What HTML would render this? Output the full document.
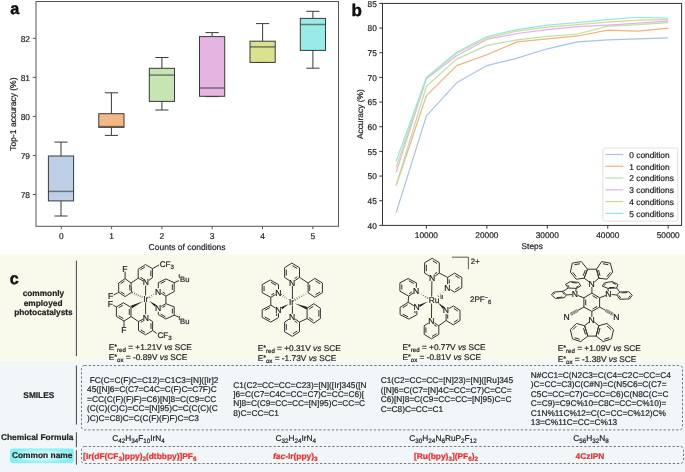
<!DOCTYPE html>
<html><head><meta charset="utf-8"><style>
html,body{margin:0;padding:0;background:#fff;}
body{width:685px;height:472px;overflow:hidden;}
svg{will-change:transform;text-rendering:geometricPrecision;display:block;font-family:"Liberation Sans", sans-serif;}
</style></head><body>
<svg width="685" height="472" viewBox="0 0 685 472">
<rect x="0" y="254.2" width="685" height="107.1" fill="#f9faeb"/>
<rect x="0" y="361.3" width="685" height="110.7" fill="#f1f7f9"/>
<line x1="61" y1="142.1" x2="61" y2="156" stroke="#3a3a3a" stroke-width="1" />
<line x1="61" y1="200.9" x2="61" y2="216" stroke="#3a3a3a" stroke-width="1" />
<line x1="54.4" y1="142.1" x2="67.6" y2="142.1" stroke="#3a3a3a" stroke-width="1" />
<line x1="54.4" y1="216" x2="67.6" y2="216" stroke="#3a3a3a" stroke-width="1" />
<rect x="48.4" y="156" width="25.2" height="44.9" fill="#bccfe6" stroke="#3a3a3a" stroke-width="1"/>
<line x1="48.4" y1="191.4" x2="73.6" y2="191.4" stroke="#333" stroke-width="1.5" stroke-opacity="0.62"/>
<line x1="111.4" y1="92.8" x2="111.4" y2="113.7" stroke="#3a3a3a" stroke-width="1" />
<line x1="111.4" y1="127.3" x2="111.4" y2="135.4" stroke="#3a3a3a" stroke-width="1" />
<line x1="104.8" y1="92.8" x2="118" y2="92.8" stroke="#3a3a3a" stroke-width="1" />
<line x1="104.8" y1="135.4" x2="118" y2="135.4" stroke="#3a3a3a" stroke-width="1" />
<rect x="98.8" y="113.7" width="25.2" height="13.6" fill="#f0b985" stroke="#3a3a3a" stroke-width="1"/>
<line x1="98.8" y1="126.6" x2="124" y2="126.6" stroke="#333" stroke-width="1.5" stroke-opacity="0.62"/>
<line x1="161.9" y1="57.5" x2="161.9" y2="68.3" stroke="#3a3a3a" stroke-width="1" />
<line x1="161.9" y1="101.4" x2="161.9" y2="110" stroke="#3a3a3a" stroke-width="1" />
<line x1="155.3" y1="57.5" x2="168.5" y2="57.5" stroke="#3a3a3a" stroke-width="1" />
<line x1="155.3" y1="110" x2="168.5" y2="110" stroke="#3a3a3a" stroke-width="1" />
<rect x="149.3" y="68.3" width="25.2" height="33.1" fill="#c5e5b5" stroke="#3a3a3a" stroke-width="1"/>
<line x1="149.3" y1="75.1" x2="174.5" y2="75.1" stroke="#333" stroke-width="1.5" stroke-opacity="0.62"/>
<line x1="212.1" y1="32.6" x2="212.1" y2="36.6" stroke="#3a3a3a" stroke-width="1" />
<line x1="212.1" y1="96.3" x2="212.1" y2="96.6" stroke="#3a3a3a" stroke-width="1" />
<line x1="205.5" y1="32.6" x2="218.7" y2="32.6" stroke="#3a3a3a" stroke-width="1" />
<line x1="205.5" y1="96.6" x2="218.7" y2="96.6" stroke="#3a3a3a" stroke-width="1" />
<rect x="199.5" y="36.6" width="25.2" height="59.7" fill="#e6b4e1" stroke="#3a3a3a" stroke-width="1"/>
<line x1="199.5" y1="88" x2="224.7" y2="88" stroke="#333" stroke-width="1.5" stroke-opacity="0.62"/>
<line x1="262.6" y1="23.6" x2="262.6" y2="41.2" stroke="#3a3a3a" stroke-width="1" />
<line x1="262.6" y1="62.4" x2="262.6" y2="62.4" stroke="#3a3a3a" stroke-width="1" />
<line x1="256" y1="23.6" x2="269.2" y2="23.6" stroke="#3a3a3a" stroke-width="1" />
<line x1="256" y1="62.4" x2="269.2" y2="62.4" stroke="#3a3a3a" stroke-width="1" />
<rect x="250" y="41.2" width="25.2" height="21.2" fill="#dae290" stroke="#3a3a3a" stroke-width="1"/>
<line x1="250" y1="46.9" x2="275.2" y2="46.9" stroke="#333" stroke-width="1.5" stroke-opacity="0.62"/>
<line x1="312.9" y1="11.3" x2="312.9" y2="18.4" stroke="#3a3a3a" stroke-width="1" />
<line x1="312.9" y1="50.4" x2="312.9" y2="68.2" stroke="#3a3a3a" stroke-width="1" />
<line x1="306.3" y1="11.3" x2="319.5" y2="11.3" stroke="#3a3a3a" stroke-width="1" />
<line x1="306.3" y1="68.2" x2="319.5" y2="68.2" stroke="#3a3a3a" stroke-width="1" />
<rect x="300.3" y="18.4" width="25.2" height="32" fill="#9aebe8" stroke="#3a3a3a" stroke-width="1"/>
<line x1="300.3" y1="24.5" x2="325.5" y2="24.5" stroke="#333" stroke-width="1.5" stroke-opacity="0.62"/>
<rect x="36" y="1.5" width="302.5" height="224.8" fill="none" stroke="#555" stroke-width="1"/>
<line x1="32.8" y1="194.5" x2="36" y2="194.5" stroke="#555" stroke-width="1" />
<text x="30" y="197.7" font-size="8.4" text-anchor="end" font-weight="normal" fill="#222"  stroke="#222" stroke-width="0.2">78</text>
<line x1="32.8" y1="155.45" x2="36" y2="155.45" stroke="#555" stroke-width="1" />
<text x="30" y="158.65" font-size="8.4" text-anchor="end" font-weight="normal" fill="#222"  stroke="#222" stroke-width="0.2">79</text>
<line x1="32.8" y1="116.4" x2="36" y2="116.4" stroke="#555" stroke-width="1" />
<text x="30" y="119.6" font-size="8.4" text-anchor="end" font-weight="normal" fill="#222"  stroke="#222" stroke-width="0.2">80</text>
<line x1="32.8" y1="77.35" x2="36" y2="77.35" stroke="#555" stroke-width="1" />
<text x="30" y="80.55" font-size="8.4" text-anchor="end" font-weight="normal" fill="#222"  stroke="#222" stroke-width="0.2">81</text>
<line x1="32.8" y1="38.3" x2="36" y2="38.3" stroke="#555" stroke-width="1" />
<text x="30" y="41.5" font-size="8.4" text-anchor="end" font-weight="normal" fill="#222"  stroke="#222" stroke-width="0.2">82</text>
<line x1="61.3" y1="226.3" x2="61.3" y2="229.1" stroke="#555" stroke-width="1" />
<text x="61.3" y="238.8" font-size="8.4" text-anchor="middle" font-weight="normal" fill="#222"  stroke="#222" stroke-width="0.2">0</text>
<line x1="111.6" y1="226.3" x2="111.6" y2="229.1" stroke="#555" stroke-width="1" />
<text x="111.6" y="238.8" font-size="8.4" text-anchor="middle" font-weight="normal" fill="#222"  stroke="#222" stroke-width="0.2">1</text>
<line x1="161.9" y1="226.3" x2="161.9" y2="229.1" stroke="#555" stroke-width="1" />
<text x="161.9" y="238.8" font-size="8.4" text-anchor="middle" font-weight="normal" fill="#222"  stroke="#222" stroke-width="0.2">2</text>
<line x1="212.2" y1="226.3" x2="212.2" y2="229.1" stroke="#555" stroke-width="1" />
<text x="212.2" y="238.8" font-size="8.4" text-anchor="middle" font-weight="normal" fill="#222"  stroke="#222" stroke-width="0.2">3</text>
<line x1="262.5" y1="226.3" x2="262.5" y2="229.1" stroke="#555" stroke-width="1" />
<text x="262.5" y="238.8" font-size="8.4" text-anchor="middle" font-weight="normal" fill="#222"  stroke="#222" stroke-width="0.2">4</text>
<line x1="312.8" y1="226.3" x2="312.8" y2="229.1" stroke="#555" stroke-width="1" />
<text x="312.8" y="238.8" font-size="8.4" text-anchor="middle" font-weight="normal" fill="#222"  stroke="#222" stroke-width="0.2">5</text>
<text x="187.1" y="249.6" font-size="8.5" text-anchor="middle" font-weight="normal" fill="#222"  stroke="#222" stroke-width="0.2">Counts of conditions</text>
<text x="0" y="0" font-size="8.5" text-anchor="middle" font-weight="normal" fill="#222" transform="translate(16.1,114.1) rotate(-90)" stroke="#222" stroke-width="0.2">Top-1 accuracy (%)</text>
<text x="10.2" y="14.2" font-size="16.2" text-anchor="start" font-weight="bold" fill="#111" stroke="#111" stroke-width="0.45">a</text>
<polyline points="396.17,212.57 426.4,115.89 456.62,82.84 486.85,65.57 517.07,58.17 547.3,48.8 577.52,41.89 607.75,39.92 637.97,38.93 668.2,37.95" fill="none" stroke="#a9c3e3" stroke-width="1.2" stroke-linejoin="round"/>
<polyline points="396.17,185.44 426.4,95.66 456.62,65.57 486.85,54.72 517.07,41.89 547.3,38.93 577.52,35.97 607.75,30.05 637.97,31.04 668.2,28.08" fill="none" stroke="#f2b27c" stroke-width="1.2" stroke-linejoin="round"/>
<polyline points="396.17,184.95 426.4,86.29 456.62,59.16 486.85,45.35 517.07,39.92 547.3,36.47 577.52,34 607.75,26.11 637.97,24.63 668.2,22.65" fill="none" stroke="#b9e2a9" stroke-width="1.2" stroke-linejoin="round"/>
<polyline points="396.17,172.12 426.4,78.89 456.62,55.7 486.85,39.43 517.07,33.51 547.3,29.56 577.52,26.6 607.75,25.12 637.97,23.15 668.2,21.17" fill="none" stroke="#e8aeea" stroke-width="1.2" stroke-linejoin="round"/>
<polyline points="396.17,167.19 426.4,77.9 456.62,53.24 486.85,37.95 517.07,31.04 547.3,27.09 577.52,24.63 607.75,22.16 637.97,20.19 668.2,19.69" fill="none" stroke="#d3da8c" stroke-width="1.2" stroke-linejoin="round"/>
<polyline points="396.17,161.27 426.4,77.41 456.62,52.25 486.85,36.47 517.07,29.56 547.3,25.12 577.52,22.65 607.75,19.69 637.97,17.23 668.2,18.21" fill="none" stroke="#8ee9ea" stroke-width="1.2" stroke-linejoin="round"/>
<rect x="382.5" y="3.4" width="299.1" height="222" fill="none" stroke="#333" stroke-width="1"/>
<line x1="379.3" y1="225.4" x2="382.5" y2="225.4" stroke="#333" stroke-width="1" />
<text x="376.8" y="228.6" font-size="8.3" text-anchor="end" font-weight="normal" fill="#222"  stroke="#222" stroke-width="0.2">40</text>
<line x1="379.3" y1="200.74" x2="382.5" y2="200.74" stroke="#333" stroke-width="1" />
<text x="376.8" y="203.94" font-size="8.3" text-anchor="end" font-weight="normal" fill="#222"  stroke="#222" stroke-width="0.2">45</text>
<line x1="379.3" y1="176.07" x2="382.5" y2="176.07" stroke="#333" stroke-width="1" />
<text x="376.8" y="179.27" font-size="8.3" text-anchor="end" font-weight="normal" fill="#222"  stroke="#222" stroke-width="0.2">50</text>
<line x1="379.3" y1="151.41" x2="382.5" y2="151.41" stroke="#333" stroke-width="1" />
<text x="376.8" y="154.6" font-size="8.3" text-anchor="end" font-weight="normal" fill="#222"  stroke="#222" stroke-width="0.2">55</text>
<line x1="379.3" y1="126.74" x2="382.5" y2="126.74" stroke="#333" stroke-width="1" />
<text x="376.8" y="129.94" font-size="8.3" text-anchor="end" font-weight="normal" fill="#222"  stroke="#222" stroke-width="0.2">60</text>
<line x1="379.3" y1="102.08" x2="382.5" y2="102.08" stroke="#333" stroke-width="1" />
<text x="376.8" y="105.28" font-size="8.3" text-anchor="end" font-weight="normal" fill="#222"  stroke="#222" stroke-width="0.2">65</text>
<line x1="379.3" y1="77.41" x2="382.5" y2="77.41" stroke="#333" stroke-width="1" />
<text x="376.8" y="80.61" font-size="8.3" text-anchor="end" font-weight="normal" fill="#222"  stroke="#222" stroke-width="0.2">70</text>
<line x1="379.3" y1="52.75" x2="382.5" y2="52.75" stroke="#333" stroke-width="1" />
<text x="376.8" y="55.95" font-size="8.3" text-anchor="end" font-weight="normal" fill="#222"  stroke="#222" stroke-width="0.2">75</text>
<line x1="379.3" y1="28.08" x2="382.5" y2="28.08" stroke="#333" stroke-width="1" />
<text x="376.8" y="31.28" font-size="8.3" text-anchor="end" font-weight="normal" fill="#222"  stroke="#222" stroke-width="0.2">80</text>
<line x1="379.3" y1="3.42" x2="382.5" y2="3.42" stroke="#333" stroke-width="1" />
<text x="376.8" y="6.62" font-size="8.3" text-anchor="end" font-weight="normal" fill="#222"  stroke="#222" stroke-width="0.2">85</text>
<line x1="426.4" y1="225.4" x2="426.4" y2="228.6" stroke="#333" stroke-width="1" />
<text x="426.4" y="237.8" font-size="8.3" text-anchor="middle" font-weight="normal" fill="#222"  stroke="#222" stroke-width="0.2">10000</text>
<line x1="486.85" y1="225.4" x2="486.85" y2="228.6" stroke="#333" stroke-width="1" />
<text x="486.85" y="237.8" font-size="8.3" text-anchor="middle" font-weight="normal" fill="#222"  stroke="#222" stroke-width="0.2">20000</text>
<line x1="547.3" y1="225.4" x2="547.3" y2="228.6" stroke="#333" stroke-width="1" />
<text x="547.3" y="237.8" font-size="8.3" text-anchor="middle" font-weight="normal" fill="#222"  stroke="#222" stroke-width="0.2">30000</text>
<line x1="607.75" y1="225.4" x2="607.75" y2="228.6" stroke="#333" stroke-width="1" />
<text x="607.75" y="237.8" font-size="8.3" text-anchor="middle" font-weight="normal" fill="#222"  stroke="#222" stroke-width="0.2">40000</text>
<line x1="668.2" y1="225.4" x2="668.2" y2="228.6" stroke="#333" stroke-width="1" />
<text x="668.2" y="237.8" font-size="8.3" text-anchor="middle" font-weight="normal" fill="#222"  stroke="#222" stroke-width="0.2">50000</text>
<text x="532.2" y="248.5" font-size="8.3" text-anchor="middle" font-weight="normal" fill="#222"  stroke="#222" stroke-width="0.2">Steps</text>
<text x="0" y="0" font-size="8.4" text-anchor="middle" font-weight="normal" fill="#222" transform="translate(362.6,114.2) rotate(-90)" stroke="#222" stroke-width="0.2">Accuracy (%)</text>
<text x="351.5" y="16.1" font-size="17" text-anchor="start" font-weight="bold" fill="#111" stroke="#111" stroke-width="0.45">b</text>
<rect x="602.8" y="148" width="75" height="73.1" rx="2" fill="#fff" fill-opacity="0.8" stroke="#d8d8d8" stroke-width="0.8"/>
<line x1="605.3" y1="154.5" x2="623.4" y2="154.5" stroke="#a9c3e3" stroke-width="1.2" />
<text x="629.3" y="157.9" font-size="8.35" text-anchor="start" font-weight="normal" fill="#222"  stroke="#222" stroke-width="0.2">0 condition</text>
<line x1="605.3" y1="166.28" x2="623.4" y2="166.28" stroke="#f2b27c" stroke-width="1.2" />
<text x="629.3" y="169.68" font-size="8.35" text-anchor="start" font-weight="normal" fill="#222"  stroke="#222" stroke-width="0.2">1 condition</text>
<line x1="605.3" y1="178.06" x2="623.4" y2="178.06" stroke="#b9e2a9" stroke-width="1.2" />
<text x="629.3" y="181.46" font-size="8.35" text-anchor="start" font-weight="normal" fill="#222"  stroke="#222" stroke-width="0.2">2 conditions</text>
<line x1="605.3" y1="189.84" x2="623.4" y2="189.84" stroke="#e8aeea" stroke-width="1.2" />
<text x="629.3" y="193.24" font-size="8.35" text-anchor="start" font-weight="normal" fill="#222"  stroke="#222" stroke-width="0.2">3 conditions</text>
<line x1="605.3" y1="201.62" x2="623.4" y2="201.62" stroke="#d3da8c" stroke-width="1.2" />
<text x="629.3" y="205.02" font-size="8.35" text-anchor="start" font-weight="normal" fill="#222"  stroke="#222" stroke-width="0.2">4 conditions</text>
<line x1="605.3" y1="213.4" x2="623.4" y2="213.4" stroke="#8ee9ea" stroke-width="1.2" />
<text x="629.3" y="216.8" font-size="8.35" text-anchor="start" font-weight="normal" fill="#222"  stroke="#222" stroke-width="0.2">5 conditions</text>
<line x1="76.4" y1="260.7" x2="76.4" y2="356.2" stroke="#444" stroke-width="1" />
<line x1="76.4" y1="365.5" x2="76.4" y2="424.6" stroke="#444" stroke-width="1" />
<line x1="76.4" y1="432.3" x2="76.4" y2="447.2" stroke="#444" stroke-width="1" />
<line x1="76.4" y1="450.1" x2="76.4" y2="464.7" stroke="#444" stroke-width="1" />
<text x="9.8" y="283.8" font-size="16.2" text-anchor="start" font-weight="bold" fill="#111" stroke="#111" stroke-width="0.45">c</text>
<text x="43.4" y="296" font-size="8.3" text-anchor="middle" font-weight="bold" fill="#222"  stroke="#222" stroke-width="0.2">commonly</text>
<text x="43.1" y="305.6" font-size="8.3" text-anchor="middle" font-weight="bold" fill="#222"  stroke="#222" stroke-width="0.2">employed</text>
<text x="43.45" y="315" font-size="8.3" text-anchor="middle" font-weight="bold" fill="#222"  stroke="#222" stroke-width="0.2">photocatalysts</text>
<text x="38.8" y="397.6" font-size="8.3" text-anchor="middle" font-weight="bold" fill="#222"  stroke="#222" stroke-width="0.2">SMILES</text>
<text x="37.2" y="440.1" font-size="8.4" text-anchor="middle" font-weight="bold" fill="#222"  stroke="#222" stroke-width="0.2">Chemical Formula</text>
<defs><radialGradient id="pill" cx="50%" cy="50%" r="55%"><stop offset="0" stop-color="#eafdfd"/><stop offset="0.5" stop-color="#c2f9fa"/><stop offset="0.85" stop-color="#8ef2f6"/><stop offset="1" stop-color="#80f0f5"/></radialGradient></defs>
<rect x="9.9" y="448.5" width="64" height="14.5" rx="3.2" fill="url(#pill)"/>
<text x="42.2" y="458.2" font-size="8.4" text-anchor="middle" font-weight="bold" fill="#222"  stroke="#222" stroke-width="0.2">Common name</text>
<rect x="81.5" y="365.5" width="601" height="64.4" rx="3" fill="none" stroke="#6a6a6a" stroke-width="0.9" stroke-dasharray="2.3,1.9"/>
<rect x="81.5" y="446.5" width="602" height="17" rx="3" fill="none" stroke="#6a6a6a" stroke-width="0.9" stroke-dasharray="2.3,1.9"/>
<text x="89.8" y="382.7" font-size="8.3" text-anchor="start" font-weight="normal" fill="#222"  stroke="#222" stroke-width="0.2">FC(C=C(F)C=C12)=C1C3=[N]([Ir]2</text>
<text x="87.1" y="392.15" font-size="8.3" text-anchor="start" font-weight="normal" fill="#222"  stroke="#222" stroke-width="0.2">45([N]6=C(C7=C4C=C(F)C=C7F)C</text>
<text x="87.1" y="401.6" font-size="8.3" text-anchor="start" font-weight="normal" fill="#222"  stroke="#222" stroke-width="0.2">=CC(C(F)(F)F)=C6)[N]8=C(C9=CC</text>
<text x="87.1" y="411.05" font-size="8.3" text-anchor="start" font-weight="normal" fill="#222"  stroke="#222" stroke-width="0.2">(C(C)(C)C)=CC=[N]95)C=C(C(C)(C</text>
<text x="87.1" y="420.5" font-size="8.3" text-anchor="start" font-weight="normal" fill="#222"  stroke="#222" stroke-width="0.2">)C)C=C8)C=C(C(F)(F)F)C=C3</text>
<text x="233.2" y="387.5" font-size="8.3" text-anchor="start" font-weight="normal" fill="#222"  stroke="#222" stroke-width="0.2">C1(C2=CC=CC=C23)=[N]([Ir]345([N</text>
<text x="233.2" y="396.9" font-size="8.3" text-anchor="start" font-weight="normal" fill="#222"  stroke="#222" stroke-width="0.2">]6=C(C7=C4C=CC=C7)C=CC=C6)[</text>
<text x="233.2" y="406.3" font-size="8.3" text-anchor="start" font-weight="normal" fill="#222"  stroke="#222" stroke-width="0.2">N]8=C(C9=CC=CC=[N]95)C=CC=C</text>
<text x="233.2" y="415.7" font-size="8.3" text-anchor="start" font-weight="normal" fill="#222"  stroke="#222" stroke-width="0.2">8)C=CC=C1</text>
<text x="380.7" y="383.3" font-size="8.3" text-anchor="start" font-weight="normal" fill="#222"  stroke="#222" stroke-width="0.2">C1(C2=CC=CC=[N]23)=[N]([Ru]345</text>
<text x="380.7" y="392.8" font-size="8.3" text-anchor="start" font-weight="normal" fill="#222"  stroke="#222" stroke-width="0.2">([N]6=C(C7=[N]4C=CC=C7)C=CC=</text>
<text x="380.7" y="402.3" font-size="8.3" text-anchor="start" font-weight="normal" fill="#222"  stroke="#222" stroke-width="0.2">C6)[N]8=C(C9=CC=CC=[N]95)C=C</text>
<text x="380.7" y="411.8" font-size="8.3" text-anchor="start" font-weight="normal" fill="#222"  stroke="#222" stroke-width="0.2">C=C8)C=CC=C1</text>
<text x="530.8" y="377.8" font-size="8.3" text-anchor="start" font-weight="normal" fill="#222"  stroke="#222" stroke-width="0.2">N#CC1=C(N2C3=C(C4=C2C=CC=C4</text>
<text x="530.8" y="387.3" font-size="8.3" text-anchor="start" font-weight="normal" fill="#222"  stroke="#222" stroke-width="0.2">)C=CC=C3)C(C#N)=C(N5C6=C(C7=</text>
<text x="530.8" y="396.8" font-size="8.3" text-anchor="start" font-weight="normal" fill="#222"  stroke="#222" stroke-width="0.2">C5C=CC=C7)C=CC=C6)C(N8C(C=C</text>
<text x="530.8" y="406.3" font-size="8.3" text-anchor="start" font-weight="normal" fill="#222"  stroke="#222" stroke-width="0.2">C=C9)=C9C%10=C8C=CC=C%10)=</text>
<text x="530.8" y="415.8" font-size="8.3" text-anchor="start" font-weight="normal" fill="#222"  stroke="#222" stroke-width="0.2">C1N%11C%12=C(C=CC=C%12)C%</text>
<text x="530.8" y="425.3" font-size="8.3" text-anchor="start" font-weight="normal" fill="#222"  stroke="#222" stroke-width="0.2">13=C%11C=CC=C%13</text>
<text x="138.5" y="440.5" font-size="8.3" text-anchor="middle" font-weight="normal" fill="#222"  stroke="#222" stroke-width="0.2"><tspan>C</tspan><tspan dy="2.1" font-size="6.3">42</tspan><tspan dy="-2.1">H</tspan><tspan dy="2.1" font-size="6.3">34</tspan><tspan dy="-2.1">F</tspan><tspan dy="2.1" font-size="6.3">10</tspan><tspan dy="-2.1">IrN</tspan><tspan dy="2.1" font-size="6.3">4</tspan></text>
<text x="295.7" y="440.5" font-size="8.3" text-anchor="middle" font-weight="normal" fill="#222"  stroke="#222" stroke-width="0.2"><tspan>C</tspan><tspan dy="2.1" font-size="6.3">32</tspan><tspan dy="-2.1">H</tspan><tspan dy="2.1" font-size="6.3">24</tspan><tspan dy="-2.1">IrN</tspan><tspan dy="2.1" font-size="6.3">4</tspan></text>
<text x="443" y="440.5" font-size="8.3" text-anchor="middle" font-weight="normal" fill="#222"  stroke="#222" stroke-width="0.2"><tspan>C</tspan><tspan dy="2.1" font-size="6.3">30</tspan><tspan dy="-2.1">H</tspan><tspan dy="2.1" font-size="6.3">24</tspan><tspan dy="-2.1">N</tspan><tspan dy="2.1" font-size="6.3">6</tspan><tspan dy="-2.1">RuP</tspan><tspan dy="2.1" font-size="6.3">2</tspan><tspan dy="-2.1">F</tspan><tspan dy="2.1" font-size="6.3">12</tspan></text>
<text x="591" y="440.5" font-size="8.3" text-anchor="middle" font-weight="normal" fill="#222"  stroke="#222" stroke-width="0.2"><tspan>C</tspan><tspan dy="2.1" font-size="6.3">56</tspan><tspan dy="-2.1">H</tspan><tspan dy="2.1" font-size="6.3">32</tspan><tspan dy="-2.1">N</tspan><tspan dy="2.1" font-size="6.3">8</tspan></text>
<text x="139.8" y="458.7" font-size="8.4" text-anchor="middle" font-weight="bold" fill="#f22a2a"  stroke="#f22a2a" stroke-width="0.2"><tspan>[Ir(dF(CF</tspan><tspan dy="2.1" font-size="6.3">3</tspan><tspan dy="-2.1">)ppy)</tspan><tspan dy="2.1" font-size="6.3">2</tspan><tspan dy="-2.1">(dtbbpy)]PF</tspan><tspan dy="2.1" font-size="6.3">6</tspan></text>
<text x="295.3" y="458.7" font-size="8.4" text-anchor="middle" font-weight="bold" fill="#f22a2a"  stroke="#f22a2a" stroke-width="0.2"><tspan font-style="italic">fac</tspan><tspan>-Ir(ppy)</tspan><tspan dy="2.1" font-size="6.3">3</tspan></text>
<text x="446" y="458.7" font-size="8.4" text-anchor="middle" font-weight="bold" fill="#f22a2a"  stroke="#f22a2a" stroke-width="0.2"><tspan>[Ru(bpy)</tspan><tspan dy="2.1" font-size="6.3">3</tspan><tspan dy="-2.1">](PF</tspan><tspan dy="2.1" font-size="6.3">6</tspan><tspan dy="-2.1">)</tspan><tspan dy="2.1" font-size="6.3">2</tspan></text>
<text x="590" y="458.7" font-size="8.4" text-anchor="middle" font-weight="bold" fill="#f22a2a"  stroke="#f22a2a" stroke-width="0.2"><tspan>4CzIPN</tspan></text>
<text x="108.8" y="349.6" font-size="8.3" text-anchor="start" font-weight="normal" fill="#222"  stroke="#222" stroke-width="0.2"><tspan>E</tspan><tspan dy="-1" font-size="7">*</tspan><tspan dy="3" font-size="6.1">red</tspan><tspan dy="-2"> = +1.21V </tspan><tspan font-style="italic">vs</tspan><tspan> SCE</tspan></text>
<text x="108.8" y="360.1" font-size="8.3" text-anchor="start" font-weight="normal" fill="#222"  stroke="#222" stroke-width="0.2"><tspan>E</tspan><tspan dy="-1" font-size="7">*</tspan><tspan dy="3" font-size="6.1">ox</tspan><tspan dy="-2"> = -0.89V </tspan><tspan font-style="italic">vs</tspan><tspan> SCE</tspan></text>
<text x="257.7" y="351.1" font-size="8.3" text-anchor="start" font-weight="normal" fill="#222"  stroke="#222" stroke-width="0.2"><tspan>E</tspan><tspan dy="-1" font-size="7">*</tspan><tspan dy="3" font-size="6.1">red</tspan><tspan dy="-2"> = +0.31V </tspan><tspan font-style="italic">vs</tspan><tspan> SCE</tspan></text>
<text x="257.7" y="361.3" font-size="8.3" text-anchor="start" font-weight="normal" fill="#222"  stroke="#222" stroke-width="0.2"><tspan>E</tspan><tspan dy="-1" font-size="7">*</tspan><tspan dy="3" font-size="6.1">ox</tspan><tspan dy="-2"> = -1.73V </tspan><tspan font-style="italic">vs</tspan><tspan> SCE</tspan></text>
<text x="402.5" y="349.9" font-size="8.3" text-anchor="start" font-weight="normal" fill="#222"  stroke="#222" stroke-width="0.2"><tspan>E</tspan><tspan dy="-1" font-size="7">*</tspan><tspan dy="3" font-size="6.1">red</tspan><tspan dy="-2"> = +0.77V </tspan><tspan font-style="italic">vs</tspan><tspan> SCE</tspan></text>
<text x="402.5" y="360.2" font-size="8.3" text-anchor="start" font-weight="normal" fill="#222"  stroke="#222" stroke-width="0.2"><tspan>E</tspan><tspan dy="-1" font-size="7">*</tspan><tspan dy="3" font-size="6.1">ox</tspan><tspan dy="-2"> = -0.81V </tspan><tspan font-style="italic">vs</tspan><tspan> SCE</tspan></text>
<text x="557.8" y="351.4" font-size="8.3" text-anchor="start" font-weight="normal" fill="#222"  stroke="#222" stroke-width="0.2"><tspan>E</tspan><tspan dy="-1" font-size="7">*</tspan><tspan dy="3" font-size="6.1">red</tspan><tspan dy="-2"> = +1.09V </tspan><tspan font-style="italic">vs</tspan><tspan> SCE</tspan></text>
<text x="557.8" y="361.6" font-size="8.3" text-anchor="start" font-weight="normal" fill="#222"  stroke="#222" stroke-width="0.2"><tspan>E</tspan><tspan dy="-1" font-size="7">*</tspan><tspan dy="3" font-size="6.1">ox</tspan><tspan dy="-2"> = -1.38V </tspan><tspan font-style="italic">vs</tspan><tspan> SCE</tspan></text>
<line x1="143.01" y1="280.76" x2="138.2" y2="278.2" stroke="#333" stroke-width="1" />
<line x1="143.4" y1="278.99" x2="140.48" y2="277.43" stroke="#333" stroke-width="1" />
<line x1="138.2" y1="278.2" x2="138.2" y2="269.2" stroke="#333" stroke-width="1" />
<line x1="138.2" y1="269.2" x2="145.5" y2="264.6" stroke="#333" stroke-width="1" />
<line x1="140.43" y1="269.83" x2="144.93" y2="266.99" stroke="#333" stroke-width="1" />
<line x1="145.5" y1="264.6" x2="152.4" y2="268.6" stroke="#333" stroke-width="1" />
<line x1="152.4" y1="268.6" x2="152.4" y2="277.8" stroke="#333" stroke-width="1" />
<line x1="150.81" y1="270.43" x2="150.81" y2="276.09" stroke="#333" stroke-width="1" />
<line x1="152.4" y1="277.8" x2="148.93" y2="280.34" stroke="#333" stroke-width="1" />
<text x="145.9" y="285.4" font-size="8.6" text-anchor="middle" font-weight="normal" fill="#222"  stroke="#222" stroke-width="0.2">N</text>
<line x1="131" y1="283" x2="125.1" y2="278.6" stroke="#333" stroke-width="1" />
<line x1="125.1" y1="278.6" x2="118.7" y2="283" stroke="#333" stroke-width="1" />
<line x1="124.59" y1="281.02" x2="120.65" y2="283.73" stroke="#333" stroke-width="1" />
<line x1="118.7" y1="283" x2="118.7" y2="292.4" stroke="#333" stroke-width="1" />
<line x1="118.7" y1="292.4" x2="125.1" y2="296.6" stroke="#333" stroke-width="1" />
<line x1="120.65" y1="291.63" x2="124.59" y2="294.22" stroke="#333" stroke-width="1" />
<line x1="125.1" y1="296.6" x2="131.5" y2="292.4" stroke="#333" stroke-width="1" />
<line x1="131.5" y1="292.4" x2="131" y2="283" stroke="#333" stroke-width="1" />
<line x1="129.97" y1="290.59" x2="129.66" y2="284.8" stroke="#333" stroke-width="1" />
<line x1="131" y1="283" x2="138.2" y2="278.2" stroke="#333" stroke-width="1" />
<line x1="125.1" y1="278.6" x2="125.1" y2="271.6" stroke="#333" stroke-width="1" />
<text x="124.9" y="271.6" font-size="8.6" text-anchor="middle" font-weight="normal" fill="#222"  stroke="#222" stroke-width="0.2">F</text>
<line x1="118.7" y1="292.4" x2="113.48" y2="295.04" stroke="#333" stroke-width="1" />
<text x="110.6" y="299.4" font-size="8.6" text-anchor="middle" font-weight="normal" fill="#222"  stroke="#222" stroke-width="0.2">F</text>
<line x1="152.4" y1="268.6" x2="159.2" y2="264.9" stroke="#333" stroke-width="1" />
<text x="159.7" y="266.6" font-size="8.1" text-anchor="start" font-weight="normal" fill="#222"  stroke="#222" stroke-width="0.2">CF<tspan font-size="6.2" dy="2.4">3</tspan></text>
<line x1="131" y1="307.3" x2="123.4" y2="302.8" stroke="#333" stroke-width="1" />
<line x1="123.4" y1="302.8" x2="116.4" y2="306.9" stroke="#333" stroke-width="1" />
<line x1="122.93" y1="305.2" x2="118.62" y2="307.72" stroke="#333" stroke-width="1" />
<line x1="116.4" y1="306.9" x2="116.4" y2="316.4" stroke="#333" stroke-width="1" />
<line x1="116.4" y1="316.4" x2="124" y2="321.1" stroke="#333" stroke-width="1" />
<line x1="118.66" y1="315.72" x2="123.35" y2="318.61" stroke="#333" stroke-width="1" />
<line x1="124" y1="321.1" x2="131" y2="316.6" stroke="#333" stroke-width="1" />
<line x1="131" y1="316.6" x2="131" y2="307.3" stroke="#333" stroke-width="1" />
<line x1="129.32" y1="314.79" x2="129.32" y2="309.06" stroke="#333" stroke-width="1" />
<line x1="116.4" y1="306.9" x2="113.25" y2="305.21" stroke="#333" stroke-width="1" />
<text x="110.4" y="306.8" font-size="8.6" text-anchor="middle" font-weight="normal" fill="#222"  stroke="#222" stroke-width="0.2">F</text>
<line x1="124" y1="321.1" x2="124" y2="327.2" stroke="#333" stroke-width="1" />
<text x="123.8" y="333.2" font-size="8.6" text-anchor="middle" font-weight="normal" fill="#222"  stroke="#222" stroke-width="0.2">F</text>
<line x1="142.99" y1="319.2" x2="138.5" y2="321.5" stroke="#333" stroke-width="1" />
<line x1="143.45" y1="320.86" x2="140.73" y2="322.26" stroke="#333" stroke-width="1" />
<line x1="138.5" y1="321.5" x2="138.5" y2="330.6" stroke="#333" stroke-width="1" />
<line x1="138.5" y1="330.6" x2="145.5" y2="334.8" stroke="#333" stroke-width="1" />
<line x1="140.68" y1="329.89" x2="144.99" y2="332.48" stroke="#333" stroke-width="1" />
<line x1="145.5" y1="334.8" x2="152.6" y2="330.6" stroke="#333" stroke-width="1" />
<line x1="152.6" y1="330.6" x2="152.6" y2="321.5" stroke="#333" stroke-width="1" />
<line x1="151" y1="328.86" x2="151" y2="323.26" stroke="#333" stroke-width="1" />
<line x1="152.6" y1="321.5" x2="149.1" y2="319.4" stroke="#333" stroke-width="1" />
<text x="145.9" y="320.6" font-size="8.6" text-anchor="middle" font-weight="normal" fill="#222"  stroke="#222" stroke-width="0.2">N</text>
<line x1="131" y1="316.6" x2="138.5" y2="321.5" stroke="#333" stroke-width="1" />
<line x1="152.6" y1="330.6" x2="156.8" y2="333.4" stroke="#333" stroke-width="1" />
<text x="157.4" y="338" font-size="8.1" text-anchor="start" font-weight="normal" fill="#222"  stroke="#222" stroke-width="0.2">CF<tspan font-size="6.2" dy="2.4">3</tspan></text>
<line x1="158.3" y1="288.1" x2="158.3" y2="282.7" stroke="#333" stroke-width="1" />
<line x1="158.3" y1="282.7" x2="165.9" y2="278.9" stroke="#333" stroke-width="1" />
<line x1="160.69" y1="283.46" x2="165.37" y2="281.12" stroke="#333" stroke-width="1" />
<line x1="165.9" y1="278.9" x2="174.2" y2="282.7" stroke="#333" stroke-width="1" />
<line x1="174.2" y1="282.7" x2="174.2" y2="291.6" stroke="#333" stroke-width="1" />
<line x1="172.34" y1="284.44" x2="172.34" y2="289.92" stroke="#333" stroke-width="1" />
<line x1="174.2" y1="291.6" x2="165.9" y2="296.1" stroke="#333" stroke-width="1" />
<line x1="165.9" y1="296.1" x2="161.31" y2="293.38" stroke="#333" stroke-width="1" />
<line x1="165.37" y1="293.72" x2="162.58" y2="292.07" stroke="#333" stroke-width="1" />
<text x="158.1" y="294.6" font-size="8.6" text-anchor="middle" font-weight="normal" fill="#222"  stroke="#222" stroke-width="0.2">N</text>
<line x1="165.9" y1="303.7" x2="161.31" y2="306.42" stroke="#333" stroke-width="1" />
<line x1="165.37" y1="305.78" x2="162.58" y2="307.43" stroke="#333" stroke-width="1" />
<line x1="158.3" y1="311.7" x2="158.3" y2="314.5" stroke="#333" stroke-width="1" />
<line x1="158.3" y1="314.5" x2="165.9" y2="319" stroke="#333" stroke-width="1" />
<line x1="160.69" y1="314.1" x2="165.37" y2="316.87" stroke="#333" stroke-width="1" />
<line x1="165.9" y1="319" x2="174.2" y2="315.2" stroke="#333" stroke-width="1" />
<line x1="174.2" y1="315.2" x2="174.2" y2="306.9" stroke="#333" stroke-width="1" />
<line x1="172.34" y1="313.65" x2="172.34" y2="308.54" stroke="#333" stroke-width="1" />
<line x1="174.2" y1="306.9" x2="165.9" y2="303.7" stroke="#333" stroke-width="1" />
<text x="158.1" y="311.2" font-size="8.6" text-anchor="middle" font-weight="normal" fill="#222"  stroke="#222" stroke-width="0.2">N</text>
<line x1="165.9" y1="296.1" x2="165.9" y2="303.7" stroke="#333" stroke-width="1" />
<line x1="174.2" y1="282.7" x2="178.9" y2="280.6" stroke="#333" stroke-width="1" />
<text x="178.4" y="281.6" font-size="7.7" text-anchor="start" font-weight="normal" fill="#222"  stroke="#222" stroke-width="0.2"><tspan font-size="5.8" dy="-3.2">t</tspan><tspan dy="3.2">Bu</tspan></text>
<line x1="174.2" y1="315.2" x2="178.3" y2="316.8" stroke="#333" stroke-width="1" />
<text x="178.4" y="323.5" font-size="7.7" text-anchor="start" font-weight="normal" fill="#222"  stroke="#222" stroke-width="0.2"><tspan font-size="5.8" dy="-3.2">t</tspan><tspan dy="3.2">Bu</tspan></text>
<text x="145.8" y="301.8" font-size="8.6" text-anchor="middle" font-weight="normal" fill="#222"  stroke="#222" stroke-width="0.2">Ir</text>
<line x1="145.6" y1="295.4" x2="145.6" y2="285.6" stroke="#333" stroke-width="1" />
<line x1="145.6" y1="302.4" x2="145.6" y2="314.4" stroke="#333" stroke-width="1" />
<line x1="132.87" y1="291.6" x2="131.93" y2="293.6" stroke="#333" stroke-width="0.7" />
<line x1="134.8" y1="292.58" x2="133.92" y2="294.46" stroke="#333" stroke-width="0.7" />
<line x1="136.74" y1="293.55" x2="135.9" y2="295.33" stroke="#333" stroke-width="0.7" />
<line x1="138.67" y1="294.53" x2="137.89" y2="296.19" stroke="#333" stroke-width="0.7" />
<line x1="140.61" y1="295.5" x2="139.87" y2="297.06" stroke="#333" stroke-width="0.7" />
<line x1="142.54" y1="296.48" x2="141.86" y2="297.92" stroke="#333" stroke-width="0.7" />
<line x1="155.69" y1="293.12" x2="155.51" y2="292.88" stroke="#333" stroke-width="0.7" />
<line x1="153.87" y1="294.78" x2="153.33" y2="294.02" stroke="#333" stroke-width="0.7" />
<line x1="152.05" y1="296.44" x2="151.15" y2="295.16" stroke="#333" stroke-width="0.7" />
<line x1="150.23" y1="298.1" x2="148.97" y2="296.3" stroke="#333" stroke-width="0.7" />
<polygon points="143,301.2 130.82,305.84 131.98,308.16" fill="#222"/>
<polygon points="149.4,301 154.67,306.55 156.13,304.65" fill="#222"/>
<line x1="291.8" y1="263.1" x2="299.5" y2="267.7" stroke="#333" stroke-width="1" />
<line x1="292.45" y1="265.65" x2="297.19" y2="268.48" stroke="#333" stroke-width="1" />
<line x1="299.5" y1="267.7" x2="299.5" y2="277.4" stroke="#333" stroke-width="1" />
<line x1="299.5" y1="277.4" x2="295.16" y2="280.48" stroke="#333" stroke-width="1" />
<line x1="297.23" y1="276.7" x2="294.59" y2="278.57" stroke="#333" stroke-width="1" />
<line x1="289.38" y1="280.57" x2="284.6" y2="277.4" stroke="#333" stroke-width="1" />
<line x1="284.6" y1="277.4" x2="284.6" y2="267.7" stroke="#333" stroke-width="1" />
<line x1="286.31" y1="275.56" x2="286.31" y2="269.58" stroke="#333" stroke-width="1" />
<line x1="284.6" y1="267.7" x2="291.8" y2="263.1" stroke="#333" stroke-width="1" />
<text x="292.1" y="285.5" font-size="8.6" text-anchor="middle" font-weight="normal" fill="#222"  stroke="#222" stroke-width="0.2">N</text>
<line x1="308.1" y1="283" x2="314.8" y2="278.4" stroke="#333" stroke-width="1" />
<line x1="314.8" y1="278.4" x2="322.4" y2="283" stroke="#333" stroke-width="1" />
<line x1="315.45" y1="280.93" x2="320.14" y2="283.76" stroke="#333" stroke-width="1" />
<line x1="322.4" y1="283" x2="322.4" y2="292.7" stroke="#333" stroke-width="1" />
<line x1="322.4" y1="292.7" x2="314.8" y2="297.3" stroke="#333" stroke-width="1" />
<line x1="320.14" y1="291.94" x2="315.45" y2="294.77" stroke="#333" stroke-width="1" />
<line x1="314.8" y1="297.3" x2="308.1" y2="292.7" stroke="#333" stroke-width="1" />
<line x1="308.1" y1="292.7" x2="308.1" y2="283" stroke="#333" stroke-width="1" />
<line x1="309.71" y1="290.84" x2="309.71" y2="284.86" stroke="#333" stroke-width="1" />
<line x1="299.5" y1="277.4" x2="308.1" y2="283" stroke="#333" stroke-width="1" />
<line x1="308.17" y1="293.03" x2="308.03" y2="292.77" stroke="#333" stroke-width="0.7" />
<line x1="306.07" y1="294.32" x2="305.76" y2="293.71" stroke="#333" stroke-width="0.7" />
<line x1="303.98" y1="295.61" x2="303.49" y2="294.66" stroke="#333" stroke-width="0.7" />
<line x1="301.88" y1="296.9" x2="301.22" y2="295.6" stroke="#333" stroke-width="0.7" />
<line x1="299.78" y1="298.18" x2="298.95" y2="296.55" stroke="#333" stroke-width="0.7" />
<line x1="297.69" y1="299.47" x2="296.68" y2="297.5" stroke="#333" stroke-width="0.7" />
<line x1="295.59" y1="300.76" x2="294.41" y2="298.44" stroke="#333" stroke-width="0.7" />
<line x1="270.3" y1="280" x2="278.5" y2="284.6" stroke="#333" stroke-width="1" />
<line x1="270.96" y1="282.34" x2="276.01" y2="285.18" stroke="#333" stroke-width="1" />
<line x1="278.5" y1="284.6" x2="278.5" y2="289.2" stroke="#333" stroke-width="1" />
<line x1="275.5" y1="294.49" x2="270.8" y2="297.3" stroke="#333" stroke-width="1" />
<line x1="274.16" y1="293.25" x2="271.3" y2="294.96" stroke="#333" stroke-width="1" />
<line x1="270.8" y1="297.3" x2="262.2" y2="292.7" stroke="#333" stroke-width="1" />
<line x1="262.2" y1="292.7" x2="262.2" y2="284.6" stroke="#333" stroke-width="1" />
<line x1="264.09" y1="291.14" x2="264.09" y2="286.16" stroke="#333" stroke-width="1" />
<line x1="262.2" y1="284.6" x2="270.3" y2="280" stroke="#333" stroke-width="1" />
<text x="278.3" y="295.7" font-size="8.6" text-anchor="middle" font-weight="normal" fill="#222"  stroke="#222" stroke-width="0.2">N</text>
<line x1="282.06" y1="293.72" x2="280.74" y2="295.48" stroke="#333" stroke-width="0.7" />
<line x1="283.67" y1="295.2" x2="282.63" y2="296.6" stroke="#333" stroke-width="0.7" />
<line x1="285.29" y1="296.68" x2="284.51" y2="297.72" stroke="#333" stroke-width="0.7" />
<line x1="286.9" y1="298.16" x2="286.4" y2="298.84" stroke="#333" stroke-width="0.7" />
<line x1="288.52" y1="299.64" x2="288.28" y2="299.96" stroke="#333" stroke-width="0.7" />
<line x1="270.8" y1="305.2" x2="275.5" y2="308.01" stroke="#333" stroke-width="1" />
<line x1="278.5" y1="313.3" x2="278.5" y2="317.5" stroke="#333" stroke-width="1" />
<line x1="276.66" y1="313.48" x2="276.66" y2="316.02" stroke="#333" stroke-width="1" />
<line x1="278.5" y1="317.5" x2="270.8" y2="322.1" stroke="#333" stroke-width="1" />
<line x1="270.8" y1="322.1" x2="262.2" y2="317.5" stroke="#333" stroke-width="1" />
<line x1="270.07" y1="319.8" x2="264.77" y2="316.97" stroke="#333" stroke-width="1" />
<line x1="262.2" y1="317.5" x2="262.2" y2="309.8" stroke="#333" stroke-width="1" />
<line x1="262.2" y1="309.8" x2="270.8" y2="305.2" stroke="#333" stroke-width="1" />
<line x1="264.77" y1="310.33" x2="270.07" y2="307.5" stroke="#333" stroke-width="1" />
<text x="278.3" y="312.8" font-size="8.6" text-anchor="middle" font-weight="normal" fill="#222"  stroke="#222" stroke-width="0.2">N</text>
<line x1="270.8" y1="297.3" x2="270.8" y2="305.2" stroke="#333" stroke-width="1" />
<polygon points="288.6,304 280.98,307.17 282.22,309.23" fill="#222"/>
<line x1="295.16" y1="319.02" x2="299.5" y2="322.1" stroke="#333" stroke-width="1" />
<line x1="294.61" y1="320.93" x2="297.25" y2="322.8" stroke="#333" stroke-width="1" />
<line x1="299.5" y1="322.1" x2="299.5" y2="331.8" stroke="#333" stroke-width="1" />
<line x1="299.5" y1="331.8" x2="292.3" y2="336.4" stroke="#333" stroke-width="1" />
<line x1="297.25" y1="331.02" x2="292.82" y2="333.85" stroke="#333" stroke-width="1" />
<line x1="292.3" y1="336.4" x2="284.6" y2="331.8" stroke="#333" stroke-width="1" />
<line x1="284.6" y1="331.8" x2="284.6" y2="322.1" stroke="#333" stroke-width="1" />
<line x1="286.33" y1="329.92" x2="286.33" y2="323.94" stroke="#333" stroke-width="1" />
<line x1="284.6" y1="322.1" x2="289.38" y2="318.93" stroke="#333" stroke-width="1" />
<text x="292.1" y="320" font-size="8.6" text-anchor="middle" font-weight="normal" fill="#222"  stroke="#222" stroke-width="0.2">N</text>
<line x1="292.4" y1="299" x2="292.4" y2="285.8" stroke="#333" stroke-width="1" />
<line x1="292.4" y1="305.6" x2="292.4" y2="313.8" stroke="#333" stroke-width="1" />
<line x1="307.1" y1="308.3" x2="313.8" y2="303.7" stroke="#333" stroke-width="1" />
<line x1="309.15" y1="309.12" x2="313.28" y2="306.29" stroke="#333" stroke-width="1" />
<line x1="313.8" y1="303.7" x2="320.4" y2="308.3" stroke="#333" stroke-width="1" />
<line x1="320.4" y1="308.3" x2="320.4" y2="318.5" stroke="#333" stroke-width="1" />
<line x1="318.87" y1="310.26" x2="318.87" y2="316.54" stroke="#333" stroke-width="1" />
<line x1="320.4" y1="318.5" x2="313.8" y2="323.1" stroke="#333" stroke-width="1" />
<line x1="313.8" y1="323.1" x2="307.1" y2="318.5" stroke="#333" stroke-width="1" />
<line x1="313.28" y1="320.51" x2="309.15" y2="317.68" stroke="#333" stroke-width="1" />
<line x1="307.1" y1="318.5" x2="307.1" y2="308.3" stroke="#333" stroke-width="1" />
<line x1="299.5" y1="322.1" x2="307.1" y2="318.5" stroke="#333" stroke-width="1" />
<polygon points="295,303.4 306.61,309.5 307.59,307.1" fill="#222"/>
<text x="291.6" y="305.2" font-size="8.6" text-anchor="middle" font-weight="normal" fill="#222"  stroke="#222" stroke-width="0.2">Ir</text>
<line x1="432.2" y1="258.3" x2="439.3" y2="262.7" stroke="#333" stroke-width="1" />
<line x1="432.71" y1="260.87" x2="437.08" y2="263.58" stroke="#333" stroke-width="1" />
<line x1="439.3" y1="262.7" x2="439.3" y2="273.1" stroke="#333" stroke-width="1" />
<line x1="439.3" y1="273.1" x2="435.08" y2="276.01" stroke="#333" stroke-width="1" />
<line x1="437.08" y1="272.3" x2="434.52" y2="274.07" stroke="#333" stroke-width="1" />
<line x1="429.26" y1="276.1" x2="424.6" y2="273.1" stroke="#333" stroke-width="1" />
<line x1="424.6" y1="273.1" x2="424.6" y2="262.7" stroke="#333" stroke-width="1" />
<line x1="426.31" y1="271.12" x2="426.31" y2="264.72" stroke="#333" stroke-width="1" />
<line x1="424.6" y1="262.7" x2="432.2" y2="258.3" stroke="#333" stroke-width="1" />
<text x="432" y="281" font-size="8.6" text-anchor="middle" font-weight="normal" fill="#222"  stroke="#222" stroke-width="0.2">N</text>
<line x1="447.6" y1="277.4" x2="454.7" y2="273.1" stroke="#333" stroke-width="1" />
<line x1="454.7" y1="273.1" x2="461.8" y2="277.4" stroke="#333" stroke-width="1" />
<line x1="455.25" y1="275.62" x2="459.62" y2="278.27" stroke="#333" stroke-width="1" />
<line x1="461.8" y1="277.4" x2="461.8" y2="287.8" stroke="#333" stroke-width="1" />
<line x1="461.8" y1="287.8" x2="454.7" y2="292.2" stroke="#333" stroke-width="1" />
<line x1="459.62" y1="286.95" x2="455.25" y2="289.66" stroke="#333" stroke-width="1" />
<line x1="454.7" y1="292.2" x2="450.58" y2="289.64" stroke="#333" stroke-width="1" />
<line x1="447.6" y1="284.3" x2="447.6" y2="277.4" stroke="#333" stroke-width="1" />
<line x1="449.23" y1="283.61" x2="449.23" y2="279.4" stroke="#333" stroke-width="1" />
<text x="447.4" y="290.8" font-size="8.6" text-anchor="middle" font-weight="normal" fill="#222"  stroke="#222" stroke-width="0.2">N</text>
<line x1="439.3" y1="273.1" x2="447.6" y2="277.4" stroke="#333" stroke-width="1" />
<line x1="408.1" y1="278.5" x2="416.4" y2="282.9" stroke="#333" stroke-width="1" />
<line x1="408.77" y1="280.82" x2="413.88" y2="283.53" stroke="#333" stroke-width="1" />
<line x1="416.4" y1="282.9" x2="416.4" y2="287.6" stroke="#333" stroke-width="1" />
<line x1="413.46" y1="293.01" x2="408.7" y2="296.1" stroke="#333" stroke-width="1" />
<line x1="412.08" y1="291.76" x2="409.19" y2="293.65" stroke="#333" stroke-width="1" />
<line x1="408.7" y1="296.1" x2="399.9" y2="291.1" stroke="#333" stroke-width="1" />
<line x1="399.9" y1="291.1" x2="399.9" y2="282.9" stroke="#333" stroke-width="1" />
<line x1="401.82" y1="289.55" x2="401.82" y2="284.5" stroke="#333" stroke-width="1" />
<line x1="399.9" y1="282.9" x2="408.1" y2="278.5" stroke="#333" stroke-width="1" />
<text x="416.2" y="294.1" font-size="8.6" text-anchor="middle" font-weight="normal" fill="#222"  stroke="#222" stroke-width="0.2">N</text>
<line x1="408.1" y1="302.3" x2="413.87" y2="305.65" stroke="#333" stroke-width="1" />
<line x1="416.9" y1="310.9" x2="416.9" y2="314.7" stroke="#333" stroke-width="1" />
<line x1="414.97" y1="310.97" x2="414.97" y2="313.27" stroke="#333" stroke-width="1" />
<line x1="416.9" y1="314.7" x2="408.9" y2="319.1" stroke="#333" stroke-width="1" />
<line x1="408.9" y1="319.1" x2="400.1" y2="314.7" stroke="#333" stroke-width="1" />
<line x1="408.13" y1="316.88" x2="402.71" y2="314.17" stroke="#333" stroke-width="1" />
<line x1="400.1" y1="314.7" x2="400.1" y2="307.4" stroke="#333" stroke-width="1" />
<line x1="400.1" y1="307.4" x2="408.1" y2="302.3" stroke="#333" stroke-width="1" />
<line x1="402.65" y1="307.82" x2="407.58" y2="304.68" stroke="#333" stroke-width="1" />
<text x="416.7" y="310.4" font-size="8.6" text-anchor="middle" font-weight="normal" fill="#222"  stroke="#222" stroke-width="0.2">N</text>
<line x1="408.7" y1="296.1" x2="408.1" y2="302.3" stroke="#333" stroke-width="1" />
<line x1="434.5" y1="323.11" x2="438.8" y2="325.7" stroke="#333" stroke-width="1" />
<line x1="433.95" y1="324.79" x2="436.56" y2="326.36" stroke="#333" stroke-width="1" />
<line x1="438.8" y1="325.7" x2="438.8" y2="334.4" stroke="#333" stroke-width="1" />
<line x1="438.8" y1="334.4" x2="431.5" y2="338.8" stroke="#333" stroke-width="1" />
<line x1="436.56" y1="333.74" x2="432.06" y2="336.45" stroke="#333" stroke-width="1" />
<line x1="431.5" y1="338.8" x2="424.2" y2="334.4" stroke="#333" stroke-width="1" />
<line x1="424.2" y1="334.4" x2="424.2" y2="325.7" stroke="#333" stroke-width="1" />
<line x1="425.88" y1="332.73" x2="425.88" y2="327.37" stroke="#333" stroke-width="1" />
<line x1="424.2" y1="325.7" x2="428.5" y2="323.11" stroke="#333" stroke-width="1" />
<text x="431.3" y="324.3" font-size="8.6" text-anchor="middle" font-weight="normal" fill="#222"  stroke="#222" stroke-width="0.2">N</text>
<line x1="449.12" y1="308.52" x2="453.4" y2="306" stroke="#333" stroke-width="1" />
<line x1="453.4" y1="306" x2="460" y2="310.3" stroke="#333" stroke-width="1" />
<line x1="453.85" y1="308.5" x2="457.92" y2="311.15" stroke="#333" stroke-width="1" />
<line x1="460" y1="310.3" x2="460" y2="320.5" stroke="#333" stroke-width="1" />
<line x1="460" y1="320.5" x2="453.4" y2="324.9" stroke="#333" stroke-width="1" />
<line x1="457.92" y1="319.67" x2="453.85" y2="322.38" stroke="#333" stroke-width="1" />
<line x1="453.4" y1="324.9" x2="446.1" y2="320.5" stroke="#333" stroke-width="1" />
<line x1="446.1" y1="320.5" x2="446.1" y2="313.8" stroke="#333" stroke-width="1" />
<line x1="447.73" y1="318.55" x2="447.73" y2="314.46" stroke="#333" stroke-width="1" />
<text x="445.9" y="313.3" font-size="8.6" text-anchor="middle" font-weight="normal" fill="#222"  stroke="#222" stroke-width="0.2">N</text>
<line x1="438.8" y1="325.7" x2="446.1" y2="320.5" stroke="#333" stroke-width="1" />
<text x="434" y="302.6" font-size="8.4" text-anchor="middle" font-weight="normal" fill="#222"  stroke="#222" stroke-width="0.2">Ru</text>
<text x="440.2" y="298.6" font-size="5.6" text-anchor="start" font-weight="normal" fill="#222"  stroke="#222" stroke-width="0.2">II</text>
<line x1="431.7" y1="296.6" x2="431.9" y2="281.2" stroke="#333" stroke-width="1" />
<line x1="431.6" y1="303.6" x2="431.5" y2="318" stroke="#333" stroke-width="1" />
<line x1="419.3" y1="292.73" x2="419.1" y2="293.07" stroke="#333" stroke-width="0.7" />
<line x1="421.52" y1="293.81" x2="421.08" y2="294.54" stroke="#333" stroke-width="0.7" />
<line x1="423.74" y1="294.89" x2="423.06" y2="296.01" stroke="#333" stroke-width="0.7" />
<line x1="425.95" y1="295.98" x2="425.05" y2="297.47" stroke="#333" stroke-width="0.7" />
<line x1="428.17" y1="297.06" x2="427.03" y2="298.94" stroke="#333" stroke-width="0.7" />
<line x1="437.67" y1="295.38" x2="439.13" y2="297.02" stroke="#333" stroke-width="0.7" />
<line x1="440.14" y1="293.6" x2="441.2" y2="294.8" stroke="#333" stroke-width="0.7" />
<line x1="442.6" y1="291.83" x2="443.26" y2="292.57" stroke="#333" stroke-width="0.7" />
<line x1="445.07" y1="290.05" x2="445.33" y2="290.35" stroke="#333" stroke-width="0.7" />
<polygon points="427.8,301.6 418.84,304.94 419.96,307.06" fill="#222"/>
<polygon points="437.8,302.6 442.8,308.69 444.4,306.91" fill="#222"/>
<polyline points="451.9,257.2 468.4,257.2 468.4,269.2" fill="none" stroke="#333" stroke-width="0.8"/>
<text x="470.8" y="264.2" font-size="7.8" text-anchor="start" font-weight="normal" fill="#222"  stroke="#222" stroke-width="0.2">2+</text>
<text x="469.9" y="302.2" font-size="8.1" text-anchor="start" font-weight="normal" fill="#222"  stroke="#222" stroke-width="0.2">2PF<tspan font-size="5.2" dy="-3.4">&#8722;</tspan><tspan font-size="6" dx="0.2" dy="4.8">6</tspan></text>
<line x1="591.9" y1="293.1" x2="599.6" y2="297.8" stroke="#333" stroke-width="1" />
<line x1="592.47" y1="295.6" x2="597.21" y2="298.49" stroke="#333" stroke-width="1" />
<line x1="599.6" y1="297.8" x2="599.6" y2="307.1" stroke="#333" stroke-width="1" />
<line x1="599.6" y1="307.1" x2="591.9" y2="311.4" stroke="#333" stroke-width="1" />
<line x1="597.21" y1="306.35" x2="592.47" y2="309" stroke="#333" stroke-width="1" />
<line x1="591.9" y1="311.4" x2="583.9" y2="307.1" stroke="#333" stroke-width="1" />
<line x1="583.9" y1="307.1" x2="583.9" y2="297.8" stroke="#333" stroke-width="1" />
<line x1="585.72" y1="305.3" x2="585.72" y2="299.57" stroke="#333" stroke-width="1" />
<line x1="583.9" y1="297.8" x2="591.9" y2="293.1" stroke="#333" stroke-width="1" />
<text x="591.7" y="287" font-size="8.6" text-anchor="middle" font-weight="normal" fill="#222"  stroke="#222" stroke-width="0.2">N</text>
<line x1="591.9" y1="293.1" x2="591.9" y2="287" stroke="#333" stroke-width="1" />
<line x1="589.5" y1="282.2" x2="584.2" y2="278.2" stroke="#333" stroke-width="1" />
<line x1="584.2" y1="278.2" x2="587.5" y2="269.2" stroke="#333" stroke-width="1" />
<line x1="587.5" y1="269.2" x2="596.5" y2="269.2" stroke="#333" stroke-width="1" />
<line x1="596.5" y1="269.2" x2="598.9" y2="278.2" stroke="#333" stroke-width="1" />
<line x1="598.9" y1="278.2" x2="594.21" y2="282.09" stroke="#333" stroke-width="1" />
<line x1="584.2" y1="278.2" x2="587.5" y2="269.2" stroke="#333" stroke-width="1" />
<line x1="583.17" y1="275.75" x2="585.21" y2="270.21" stroke="#333" stroke-width="1" />
<line x1="587.5" y1="269.2" x2="581.3" y2="261.6" stroke="#333" stroke-width="1" />
<line x1="581.3" y1="261.6" x2="572.3" y2="263.1" stroke="#333" stroke-width="1" />
<line x1="579.99" y1="263.78" x2="574.45" y2="264.7" stroke="#333" stroke-width="1" />
<line x1="572.3" y1="263.1" x2="570.4" y2="272.1" stroke="#333" stroke-width="1" />
<line x1="570.4" y1="272.1" x2="576.1" y2="279.2" stroke="#333" stroke-width="1" />
<line x1="572.73" y1="272.29" x2="576.24" y2="276.67" stroke="#333" stroke-width="1" />
<line x1="576.1" y1="279.2" x2="584.2" y2="278.2" stroke="#333" stroke-width="1" />
<line x1="598.9" y1="278.2" x2="596.5" y2="269.2" stroke="#333" stroke-width="1" />
<line x1="600.01" y1="275.75" x2="598.53" y2="270.21" stroke="#333" stroke-width="1" />
<line x1="596.5" y1="269.2" x2="601.7" y2="261.6" stroke="#333" stroke-width="1" />
<line x1="601.7" y1="261.6" x2="610.3" y2="263.1" stroke="#333" stroke-width="1" />
<line x1="603.01" y1="263.78" x2="608.31" y2="264.7" stroke="#333" stroke-width="1" />
<line x1="610.3" y1="263.1" x2="612.7" y2="272.1" stroke="#333" stroke-width="1" />
<line x1="612.7" y1="272.1" x2="607" y2="279.2" stroke="#333" stroke-width="1" />
<line x1="610.38" y1="272.29" x2="606.87" y2="276.67" stroke="#333" stroke-width="1" />
<line x1="607" y1="279.2" x2="598.9" y2="278.2" stroke="#333" stroke-width="1" />
<text x="591.6" y="323" font-size="8.6" text-anchor="middle" font-weight="normal" fill="#222"  stroke="#222" stroke-width="0.2">N</text>
<line x1="591.9" y1="311.4" x2="591.83" y2="317" stroke="#333" stroke-width="1" />
<line x1="589.45" y1="321.86" x2="584.6" y2="325.7" stroke="#333" stroke-width="1" />
<line x1="584.6" y1="325.7" x2="587.8" y2="336.1" stroke="#333" stroke-width="1" />
<line x1="587.8" y1="336.1" x2="596.1" y2="336.1" stroke="#333" stroke-width="1" />
<line x1="596.1" y1="336.1" x2="598.8" y2="325.7" stroke="#333" stroke-width="1" />
<line x1="598.8" y1="325.7" x2="594.13" y2="321.89" stroke="#333" stroke-width="1" />
<line x1="584.6" y1="325.7" x2="587.8" y2="336.1" stroke="#333" stroke-width="1" />
<line x1="583.49" y1="328.08" x2="585.46" y2="334.49" stroke="#333" stroke-width="1" />
<line x1="587.8" y1="336.1" x2="580.7" y2="341.6" stroke="#333" stroke-width="1" />
<line x1="580.7" y1="341.6" x2="572.5" y2="338.9" stroke="#333" stroke-width="1" />
<line x1="579.61" y1="339.31" x2="574.56" y2="337.65" stroke="#333" stroke-width="1" />
<line x1="572.5" y1="338.9" x2="570.3" y2="329.6" stroke="#333" stroke-width="1" />
<line x1="570.3" y1="329.6" x2="576.4" y2="323.5" stroke="#333" stroke-width="1" />
<line x1="572.71" y1="329.81" x2="576.46" y2="326.06" stroke="#333" stroke-width="1" />
<line x1="576.4" y1="323.5" x2="584.6" y2="325.7" stroke="#333" stroke-width="1" />
<line x1="598.8" y1="325.7" x2="596.1" y2="336.1" stroke="#333" stroke-width="1" />
<line x1="600.02" y1="328.08" x2="598.36" y2="334.49" stroke="#333" stroke-width="1" />
<line x1="596.1" y1="336.1" x2="603.2" y2="341.6" stroke="#333" stroke-width="1" />
<line x1="603.2" y1="341.6" x2="611.4" y2="338.9" stroke="#333" stroke-width="1" />
<line x1="604.25" y1="339.31" x2="609.3" y2="337.65" stroke="#333" stroke-width="1" />
<line x1="611.4" y1="338.9" x2="613.6" y2="329.6" stroke="#333" stroke-width="1" />
<line x1="613.6" y1="329.6" x2="607" y2="323.5" stroke="#333" stroke-width="1" />
<line x1="611.12" y1="329.81" x2="607.05" y2="326.06" stroke="#333" stroke-width="1" />
<line x1="607" y1="323.5" x2="598.8" y2="325.7" stroke="#333" stroke-width="1" />
<text x="574.8" y="297.4" font-size="8.6" text-anchor="middle" font-weight="normal" fill="#222"  stroke="#222" stroke-width="0.2">N</text>
<line x1="577.8" y1="295.47" x2="583.9" y2="297.8" stroke="#333" stroke-width="1" />
<line x1="551.4" y1="294.9" x2="553.8" y2="292.1" stroke="#333" stroke-width="1" />
<line x1="553.34" y1="294.68" x2="554.82" y2="292.96" stroke="#333" stroke-width="1" />
<line x1="553.8" y1="292.1" x2="563.1" y2="291.3" stroke="#333" stroke-width="1" />
<line x1="563.1" y1="291.3" x2="566.3" y2="294.9" stroke="#333" stroke-width="1" />
<line x1="562.41" y1="292.41" x2="564.39" y2="294.62" stroke="#333" stroke-width="1" />
<line x1="566.3" y1="294.9" x2="564.3" y2="297.7" stroke="#333" stroke-width="1" />
<line x1="564.3" y1="297.7" x2="555.4" y2="298.5" stroke="#333" stroke-width="1" />
<line x1="562.41" y1="297.12" x2="556.92" y2="297.61" stroke="#333" stroke-width="1" />
<line x1="555.4" y1="298.5" x2="551.4" y2="294.9" stroke="#333" stroke-width="1" />
<line x1="565.5" y1="284.4" x2="570.3" y2="281.6" stroke="#333" stroke-width="1" />
<line x1="570.3" y1="281.6" x2="578.7" y2="282.4" stroke="#333" stroke-width="1" />
<line x1="571.64" y1="282.47" x2="576.81" y2="282.97" stroke="#333" stroke-width="1" />
<line x1="578.7" y1="282.4" x2="580.7" y2="286" stroke="#333" stroke-width="1" />
<line x1="580.7" y1="286" x2="576.3" y2="288.4" stroke="#333" stroke-width="1" />
<line x1="578.66" y1="285.99" x2="575.95" y2="287.46" stroke="#333" stroke-width="1" />
<line x1="576.3" y1="288.4" x2="568.3" y2="288" stroke="#333" stroke-width="1" />
<line x1="568.3" y1="288" x2="565.5" y2="284.4" stroke="#333" stroke-width="1" />
<line x1="569.23" y1="287.06" x2="567.51" y2="284.85" stroke="#333" stroke-width="1" />
<line x1="563.1" y1="291.3" x2="568.3" y2="288" stroke="#333" stroke-width="1" />
<line x1="566.3" y1="294.9" x2="572" y2="294.57" stroke="#333" stroke-width="1" />
<line x1="576.3" y1="288.4" x2="575.64" y2="291.47" stroke="#333" stroke-width="1" />
<text x="608.4" y="297.4" font-size="8.6" text-anchor="middle" font-weight="normal" fill="#222"  stroke="#222" stroke-width="0.2">N</text>
<line x1="599.6" y1="297.8" x2="605.79" y2="295.46" stroke="#333" stroke-width="1" />
<line x1="602.2" y1="286" x2="604.6" y2="282.8" stroke="#333" stroke-width="1" />
<line x1="604.24" y1="285.57" x2="605.72" y2="283.6" stroke="#333" stroke-width="1" />
<line x1="604.6" y1="282.8" x2="612.3" y2="281.6" stroke="#333" stroke-width="1" />
<line x1="612.3" y1="281.6" x2="617.9" y2="284.4" stroke="#333" stroke-width="1" />
<line x1="612.26" y1="282.64" x2="615.71" y2="284.37" stroke="#333" stroke-width="1" />
<line x1="617.9" y1="284.4" x2="616.7" y2="288" stroke="#333" stroke-width="1" />
<line x1="616.7" y1="288" x2="607.9" y2="288.4" stroke="#333" stroke-width="1" />
<line x1="614.54" y1="287.39" x2="609.12" y2="287.63" stroke="#333" stroke-width="1" />
<line x1="607.9" y1="288.4" x2="602.2" y2="286" stroke="#333" stroke-width="1" />
<line x1="616.7" y1="294.9" x2="619.9" y2="292.1" stroke="#333" stroke-width="1" />
<line x1="619.9" y1="292.1" x2="628.7" y2="291.7" stroke="#333" stroke-width="1" />
<line x1="621.64" y1="292.82" x2="627.06" y2="292.57" stroke="#333" stroke-width="1" />
<line x1="628.7" y1="291.7" x2="632.3" y2="295.3" stroke="#333" stroke-width="1" />
<line x1="632.3" y1="295.3" x2="629.5" y2="298.9" stroke="#333" stroke-width="1" />
<line x1="630.29" y1="295.59" x2="628.57" y2="297.81" stroke="#333" stroke-width="1" />
<line x1="629.5" y1="298.9" x2="619.9" y2="299.3" stroke="#333" stroke-width="1" />
<line x1="619.9" y1="299.3" x2="616.7" y2="294.9" stroke="#333" stroke-width="1" />
<line x1="620.71" y1="298.06" x2="618.74" y2="295.35" stroke="#333" stroke-width="1" />
<line x1="616.7" y1="288" x2="619.9" y2="292.1" stroke="#333" stroke-width="1" />
<line x1="608.25" y1="291.42" x2="607.9" y2="288.4" stroke="#333" stroke-width="1" />
<line x1="611.59" y1="294.58" x2="616.7" y2="294.9" stroke="#333" stroke-width="1" />
<line x1="583.9" y1="307.1" x2="577.82" y2="310.38" stroke="#333" stroke-width="1" />
<line x1="578.35" y1="311.35" x2="570.92" y2="315.37" stroke="#333" stroke-width="0.6" />
<line x1="577.82" y1="310.38" x2="570.4" y2="314.4" stroke="#333" stroke-width="0.6" />
<line x1="577.3" y1="309.42" x2="569.88" y2="313.43" stroke="#333" stroke-width="0.6" />
<text x="566.6" y="320" font-size="8.6" text-anchor="middle" font-weight="normal" fill="#222"  stroke="#222" stroke-width="0.2">N</text>
<line x1="599.6" y1="307.1" x2="605.72" y2="310.38" stroke="#333" stroke-width="1" />
<line x1="606.24" y1="309.42" x2="613.72" y2="313.43" stroke="#333" stroke-width="0.6" />
<line x1="605.72" y1="310.38" x2="613.2" y2="314.4" stroke="#333" stroke-width="0.6" />
<line x1="605.2" y1="311.35" x2="612.68" y2="315.37" stroke="#333" stroke-width="0.6" />
<text x="616.4" y="320" font-size="8.6" text-anchor="middle" font-weight="normal" fill="#222"  stroke="#222" stroke-width="0.2">N</text>
</svg>
</body></html>
